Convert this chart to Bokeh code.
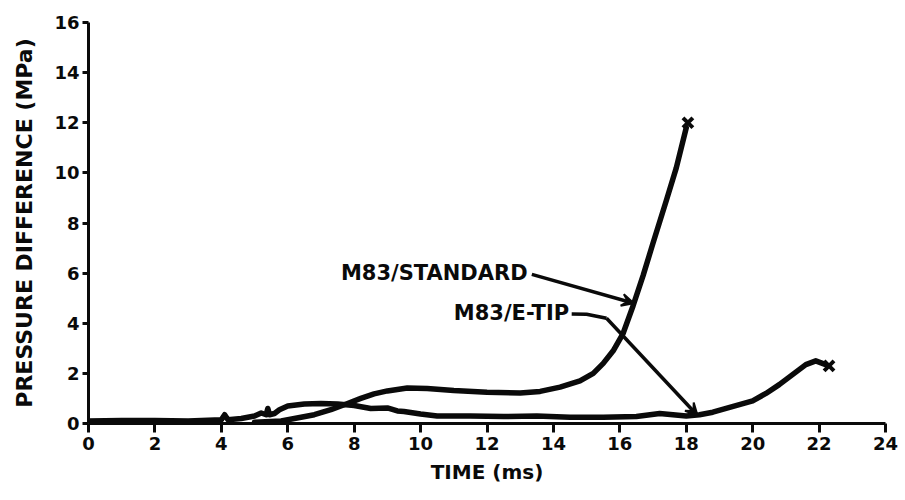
from bokeh.plotting import figure
from bokeh.models import Range1d, FixedTicker, Arrow, VeeHead
from bokeh.core.properties import value
from bokeh.embed import file_html
from bokeh.resources import INLINE

# ---- data ----
x_ticks = [0, 2, 4, 6, 8, 10, 12, 14, 16, 18, 20, 22, 24]
y_ticks = [0, 2, 4, 6, 8, 10, 12, 14, 16]

std_t = [5.0, 5.8, 6.2, 6.8, 7.3, 7.8, 8.2, 8.6, 9.0, 9.6, 10.2, 11.0, 12.0, 13.0,
         13.6, 14.2, 14.8, 15.2, 15.5, 15.8, 16.1, 16.4, 16.7, 17.0, 17.4, 17.7, 18.0]
std_p = [0.05, 0.1, 0.2, 0.35, 0.55, 0.8, 1.0, 1.18, 1.3, 1.42, 1.4, 1.32, 1.25, 1.22,
         1.28, 1.45, 1.7, 2.0, 2.4, 2.9, 3.6, 4.7, 5.9, 7.2, 8.9, 10.2, 11.8]

etip_t = [0.0, 1.0, 2.0, 3.0, 4.0, 4.1, 4.2, 4.6, 5.0, 5.2, 5.35, 5.4, 5.45, 5.6, 5.75,
          6.0, 6.5, 7.0, 7.5, 8.0, 8.5, 9.0, 9.3, 9.5, 10.0, 10.5, 11.5, 12.5, 13.5,
          14.5, 15.5, 16.5, 17.2, 17.6, 18.0, 18.4, 18.8, 19.2, 19.6, 20.0, 20.4, 20.8,
          21.2, 21.6, 21.9, 22.2]
etip_p = [0.1, 0.12, 0.12, 0.1, 0.15, 0.35, 0.15, 0.2, 0.3, 0.42, 0.35, 0.6, 0.35, 0.4, 0.55,
          0.7, 0.78, 0.8, 0.78, 0.72, 0.6, 0.62, 0.5, 0.48, 0.38, 0.3, 0.3, 0.28, 0.3,
          0.25, 0.25, 0.28, 0.4, 0.35, 0.3, 0.35, 0.45, 0.6, 0.75, 0.9, 1.2, 1.55,
          1.95, 2.35, 2.5, 2.35]

end_t = [18.05, 22.3]
end_p = [12.0, 2.3]

labels = ["M83/STANDARD", "M83/E-TIP"]
label_t = [7.6, 11.0]
label_p = [6.0, 4.4]

std_arrow = dict(x_start=13.35, y_start=5.95, x_end=16.42, y_end=4.8)
etip_leader_t = [14.55, 15.0, 15.6]
etip_leader_p = [4.37, 4.36, 4.2]
etip_arrow = dict(x_start=15.6, y_start=4.2, x_end=18.34, y_end=0.32)

INK = "#0a0a0a"

p = figure(width=905, height=500, output_backend="svg", toolbar_location=None,
           x_range=Range1d(0, 24), y_range=Range1d(0, 16),
           min_border_left=88, min_border_right=20, min_border_top=22, min_border_bottom=77)
p.outline_line_color = None
p.xgrid.visible = False
p.ygrid.visible = False

for ax in (p.xaxis[0], p.yaxis[0]):
    ax.axis_line_width = 3
    ax.axis_line_color = INK
    ax.major_tick_line_width = 3
    ax.major_tick_line_color = INK
    ax.major_tick_in = 0
    ax.minor_tick_line_color = None
    ax.major_label_text_font = "DejaVu Sans"
    ax.major_label_text_font_style = "bold"
    ax.major_label_text_font_size = "18px"
    ax.major_label_text_color = INK
    ax.axis_label_text_font = "DejaVu Sans"
    ax.axis_label_text_font_style = "bold"
    ax.axis_label_text_color = INK

p.xaxis.ticker = FixedTicker(ticks=x_ticks)
p.yaxis.ticker = FixedTicker(ticks=y_ticks)
p.xaxis.major_tick_out = 9
p.yaxis.major_tick_out = 6
p.xaxis.major_label_standoff = 4
p.yaxis.major_label_standoff = 3
p.xaxis.axis_label = "TIME (ms)"
p.yaxis.axis_label = "PRESSURE DIFFERENCE (MPa)"
p.xaxis.axis_label_text_font_size = "20px"
p.yaxis.axis_label_text_font_size = "22px"
p.xaxis.axis_label_standoff = 7
p.yaxis.axis_label_standoff = 14

p.line(std_t, std_p, line_width=5.5, line_color=INK, line_join="round", line_cap="round")
p.line(etip_t, etip_p, line_width=5.5, line_color=INK, line_join="round", line_cap="round")
p.scatter(end_t, end_p, marker="x", size=14, line_width=4, line_color=INK)

p.text(label_t, label_p, text=labels, text_font=value("DejaVu Sans"), text_font_style="bold",
       text_font_size="21px", text_baseline="middle", text_align="left", text_color=INK)

p.add_layout(Arrow(end=VeeHead(size=12, fill_color=INK, line_color=INK, line_width=2),
                   line_width=3.5, line_color=INK, **std_arrow))
p.line(etip_leader_t, etip_leader_p, line_width=3.5, line_color=INK, line_join="round")
p.add_layout(Arrow(end=VeeHead(size=12, fill_color=INK, line_color=INK, line_width=2),
                   line_width=3.5, line_color=INK, **etip_arrow))

open("out.html", "w").write(file_html(p, INLINE))
